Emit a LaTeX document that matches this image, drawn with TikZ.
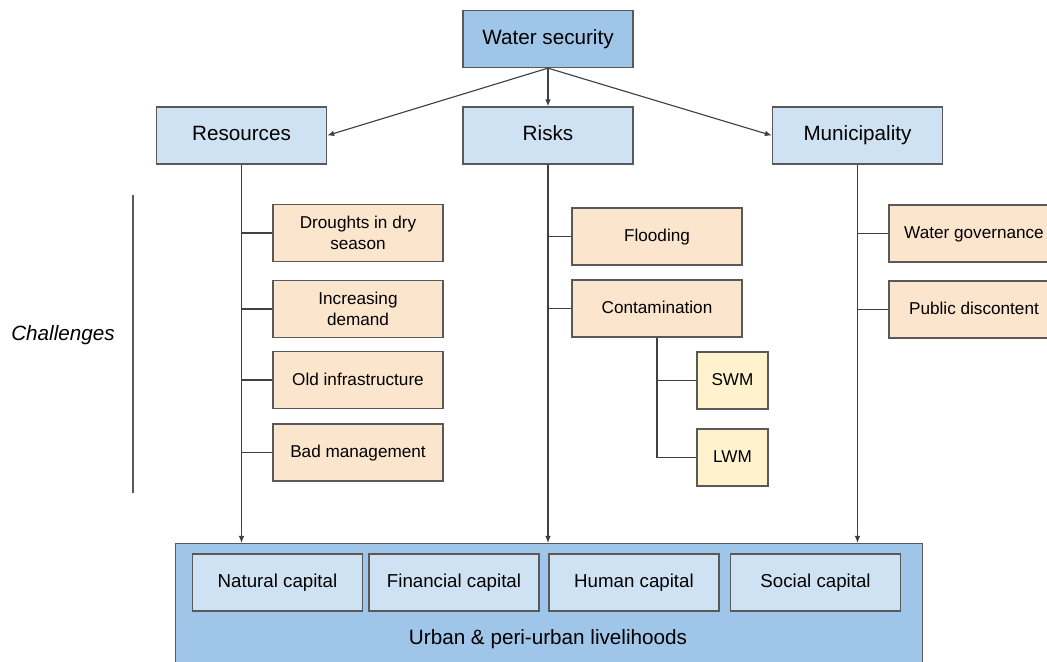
\documentclass[tikz,border=0pt]{standalone}
\usepackage{fontspec}
\setmainfont{Liberation Sans}
\usetikzlibrary{arrows.meta}
\definecolor{bluedark}{HTML}{9FC5E8}
\definecolor{bluelight}{HTML}{CFE2F3}
\definecolor{orangelight}{HTML}{FCE5CD}
\definecolor{yellowlight}{HTML}{FFF2CC}
\definecolor{boxline}{HTML}{595959}
\definecolor{linkline}{HTML}{404040}
\newcommand{\bigfont}{\fontsize{14.7}{17}\selectfont}
\newcommand{\smallfont}{\fontsize{12.2}{14.5}\selectfont}
\newcommand{\capfont}{\fontsize{13.3}{16}\selectfont}
\tikzset{
  box/.style={draw=boxline, line width=0.9pt, minimum width=4.25cm, minimum height=1.425cm, inner sep=2pt},
  oneline/.style={text height=0.74em, text depth=0.02em},
  topbox/.style={box, oneline, fill=bluedark, font=\bigfont},
  headbox/.style={box, oneline, fill=bluelight, font=\bigfont},
  chbox/.style={box, fill=orangelight, font=\smallfont, align=center},
  subbox/.style={box, oneline, fill=yellowlight, font=\smallfont, minimum width=1.775cm},
  capbox/.style={box, oneline, fill=bluelight, font=\capfont},
  link/.style={draw=linkline, line width=0.8pt},
  arr/.style={link, -{Latex[length=5pt,width=4pt]}}
}

\begin{document}
\begin{tikzpicture}[x=0.025cm, y=-0.025cm]
        \useasboundingbox (0,0) rectangle (1047,662);
        \clip (0,0) rectangle (1047,662);
        % top
        \node[topbox] (ws) at (548,39) {Water security};
        \node[headbox] (res) at (241.5,135.5) {Resources};
        \node[headbox] (risk) at (548,135.5) {Risks};
        \node[headbox] (muni) at (857.5,135.5) {Municipality};
        \draw[arr] (ws.south) -- (res.east);
        \draw[arr] (ws.south) -- (risk.north);
        \draw[arr] (ws.south) -- (muni.west);
        % bottom
        \node[fill=bluedark, draw=boxline, line width=0.9pt, minimum width=18.675cm, minimum height=3.9cm, anchor=north west, inner sep=0pt] (live) at (175,543) {};
        \node[font=\bigfont] (livetxt) at (548,639) {Urban \& peri-urban livelihoods};
        \node[capbox] (nat) at (277.5,582.5) {Natural capital};
        \node[capbox] (fin) at (454,582.5) {Financial capital};
        \node[capbox] (hum) at (634,582.5) {Human capital};
        \node[capbox] (soc) at (815.5,582.5) {Social capital};
        % resources
        \node[chbox] (drought) at (358,233) {Droughts in dry\\season};
        \node[chbox] (demand) at (358,309) {Increasing\\demand};
        \node[chbox, oneline] (infra) at (358,380) {Old infrastructure};
        \node[chbox, oneline] (manage) at (358,452.5) {Bad management};
        \draw[arr] (res.south) -- (res.south |- live.north);
        \foreach \c in {drought,demand,infra,manage}
          \draw[link] (res.south |- \c.west) -- (\c.west);
        % risks
        \node[chbox, oneline] (flood) at (657,236.5) {Flooding};
        \node[chbox, oneline] (contam) at (657,308.5) {Contamination};
        \node[subbox] (swm) at (732.5,380.5) {SWM};
        \node[subbox] (lwm) at (732.5,457.5) {LWM};
        \draw[arr] (risk.south) -- (risk.south |- live.north);
        \foreach \c in {flood,contam}
          \draw[link] (risk.south |- \c.west) -- (\c.west);
        \draw[link] (contam.south) -- (contam.south |- lwm.west) -- (lwm.west);
        \draw[link] (contam.south |- swm.west) -- (swm.west);
        % municipality
        \node[chbox, oneline] (gov) at (974,233.5) {Water governance};
        \node[chbox, oneline] (disc) at (974,309.5) {Public discontent};
        \draw[arr] (muni.south) -- (muni.south |- live.north);
        \foreach \c in {gov,disc}
          \draw[link] (muni.south |- \c.west) -- (\c.west);
        % challenges
        \node[font=\bigfont\itshape] (chal) at (63,335) {Challenges};
        \coordinate (chtop) at (133,195);
        \coordinate (chbot) at (133,493);
        \draw[link, draw=boxline] (chtop) -- (chbot);
\end{tikzpicture}
\end{document}
